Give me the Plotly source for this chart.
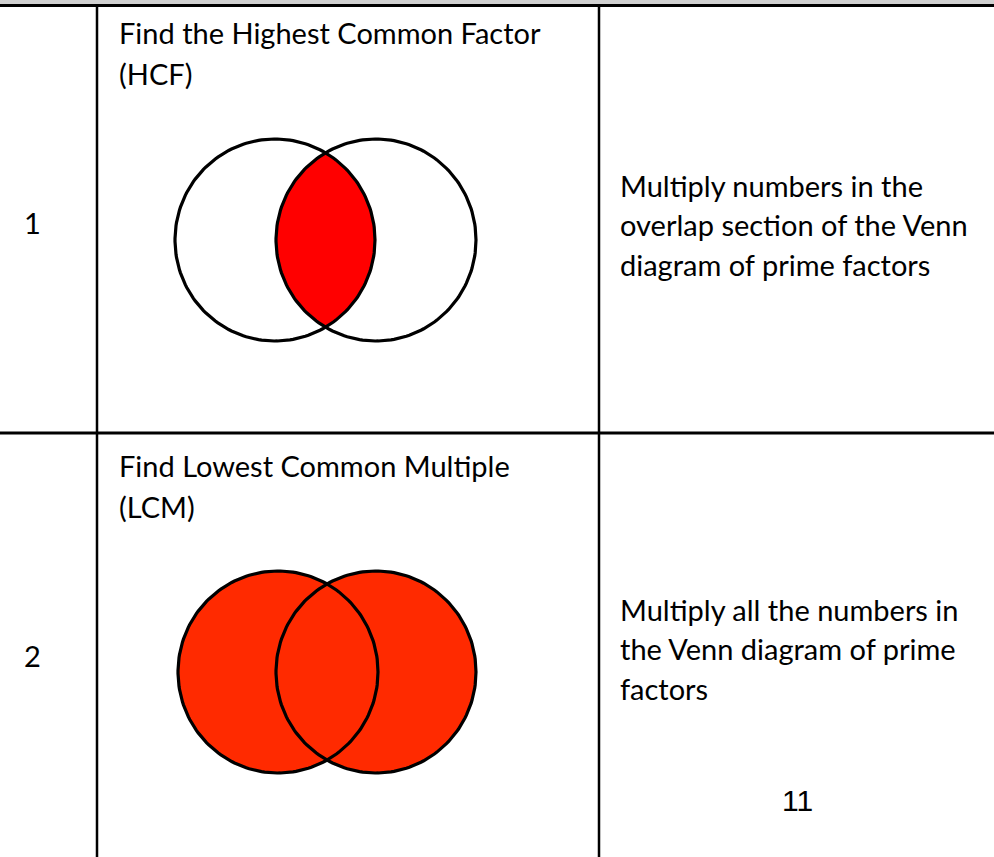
'''
    Two-row table: HCF / LCM with their Venn diagrams and methods.
'''

import numpy as np
import plotly.graph_objects as go

# table content
row_numbers = ['1', '2']
task_lines = [
    ['Find the Highest Common Factor', '(HCF)'],
    ['Find Lowest Common Multiple', '(LCM)'],
]
method_lines = [
    ['Multiply numbers in the', 'overlap section of the Venn', 'diagram of prime factors'],
    ['Multiply all the numbers in', 'the Venn diagram of prime', 'factors'],
]
page_number = '11'

# venn geometry (pixel coordinates of the page)
HCF_CENTERS = [(275, 240), (376, 240)]
LCM_CENTERS = [(278, 672), (376, 672)]
RX, RY = 100, 101
HCF_RED = '#ff0000'
LCM_RED = '#ff2a00'

TEXT_FONT = dict(family='Lato', size=29, color='black')
W, H = 994, 857


def ellipse(cx, cy, t0=0, t1=2 * np.pi, n=200):
    t = np.linspace(t0, t1, n)
    return cx + RX * np.cos(t), cy + RY * np.sin(t)


def lens(c1, c2):
    '''Polygon of the overlap between two equal circles side by side.'''
    d = (c2[0] - c1[0]) / 2
    a = np.arccos(d / RX)
    x1, y1 = ellipse(*c1, -a, a)
    x2, y2 = ellipse(*c2, np.pi - a, np.pi + a)
    return np.concatenate([x1, x2]), np.concatenate([y1, y2])


fig = go.Figure()

# HCF: only the overlap filled
lx, ly = lens(*HCF_CENTERS)
fig.add_trace(go.Scatter(x=lx, y=ly, fill='toself', fillcolor=HCF_RED,
                         mode='lines', line=dict(width=0), hoverinfo='skip'))
for c in HCF_CENTERS:
    x, y = ellipse(*c)
    fig.add_trace(go.Scatter(x=x, y=y, mode='lines',
                             line=dict(color='black', width=3.2), hoverinfo='skip'))

# LCM: both circles filled
for c in LCM_CENTERS:
    x, y = ellipse(*c)
    fig.add_trace(go.Scatter(x=x, y=y, fill='toself', fillcolor=LCM_RED,
                             mode='lines', line=dict(width=0), hoverinfo='skip'))
for c in LCM_CENTERS:
    x, y = ellipse(*c)
    fig.add_trace(go.Scatter(x=x, y=y, mode='lines',
                             line=dict(color='black', width=3.2), hoverinfo='skip'))

# table grid
shapes = [
    dict(type='rect', xref='paper', yref='paper', x0=0, x1=1, y0=1 - 4.5 / H, y1=1,
         fillcolor='#d0d0d0', line_width=0, layer='above'),
    dict(type='line', x0=0, x1=W, y0=5.5, y1=5.5, line=dict(color='black', width=3)),
    dict(type='line', x0=0, x1=W, y0=433, y1=433, line=dict(color='black', width=3)),
    dict(type='line', x0=97, x1=97, y0=5, y1=H, line=dict(color='black', width=2.5)),
    dict(type='line', x0=599, x1=599, y0=5, y1=H, line=dict(color='black', width=2.5)),
]

annotations = []
row_tops = [0, 433]
method_tops = [185, 609]
for i, top in enumerate(row_tops):
    annotations.append(dict(x=22, y=top + 222, text=row_numbers[i]))
    for j, line in enumerate(task_lines[i]):
        annotations.append(dict(x=117, y=top + 32 + 41 * j, text=line))
    for j, line in enumerate(method_lines[i]):
        annotations.append(dict(x=618, y=method_tops[i] + 39.5 * j, text=line))
for a in annotations:
    a.update(xref='x', yref='y', xanchor='left', yanchor='middle',
             showarrow=False, font=TEXT_FONT)
annotations.append(dict(x=797, y=800, text=page_number, xref='x', yref='y',
                        xanchor='center', yanchor='middle', showarrow=False,
                        font=dict(family='Liberation Sans Narrow, Liberation Sans',
                                  size=30, color='black')))

fig.update_layout(
    width=W, height=H,
    margin=dict(l=0, r=0, t=0, b=0),
    paper_bgcolor='white', plot_bgcolor='white',
    showlegend=False,
    shapes=shapes,
    annotations=annotations,
    xaxis=dict(range=[0, W], visible=False, fixedrange=True),
    yaxis=dict(range=[H, 0], visible=False, fixedrange=True),
)

# drop the browser's default body margin so the page starts at the corner
fig.write_html('out.html', config={'displayModeBar': False},
               post_script="document.body.style.margin='0px';")
